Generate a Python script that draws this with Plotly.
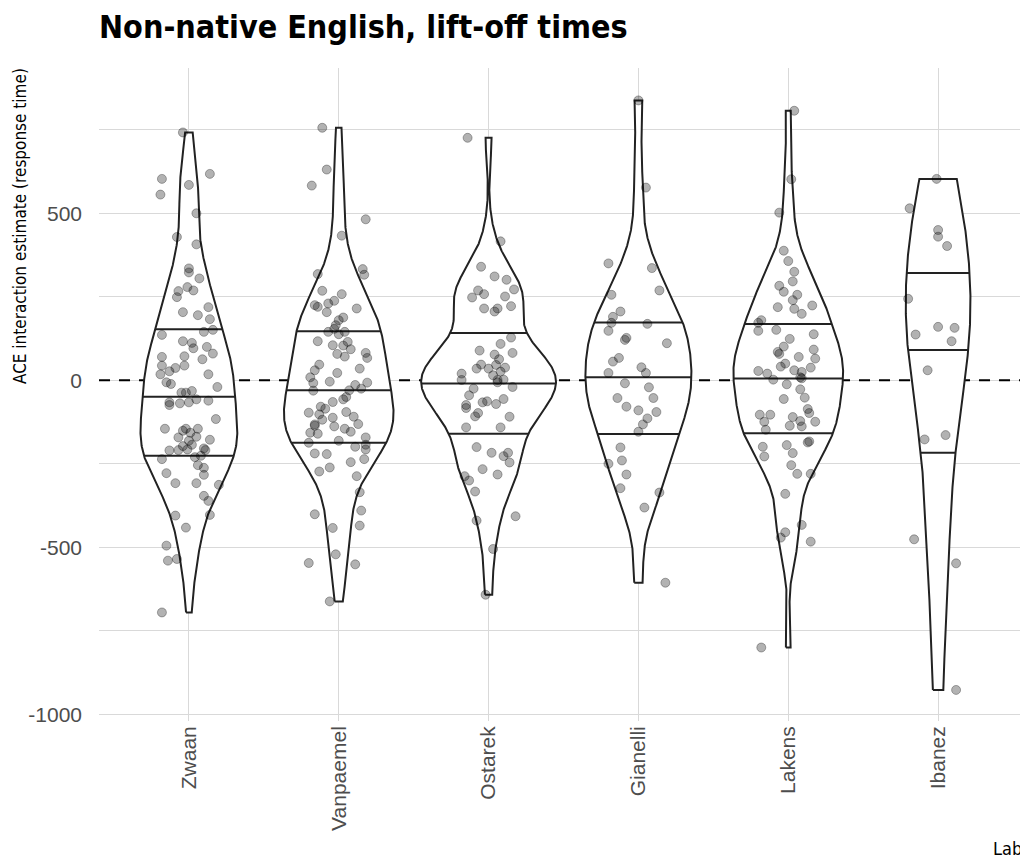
import numpy as np
import plotly.graph_objects as go

LABS = ["Zwaan", "Vanpaemel", "Ostarek", "Gianelli", "Lakens", "Ibanez"]
Y_TICKS = [-1000, -750, -500, -250, 0, 250, 500, 750]

zwaan_values = [742, 603, 556, 618, 585, 500, 429, 407, 335, 323,
                305, 279, 267, 269, 249, 204, 219, 195, 183, 145,
                151, 136, 117, 112, 96, 100, 80, 70, 72, 63,
                44, 44, 37, 27, 18, 18, -6, -11, -20, -37,
                -37, -32, -66, -66, -69, -57, -61, -74, -116, -145,
                -151, -145, -145, -171, -157, -169, -178, -181, -197, -193,
                -210, -209, -207, -204, -209, -230, -226, -236, -254, -262,
                -278, -283, -308, -308, -313, -346, -361, -403, -405, -441,
                -495, -540, -535, -695]
zwaan_jitter = [-0.04, -0.18, -0.19, 0.14, 0.00, 0.05, -0.08, 0.05, 0.00, 0.00,
                0.07, -0.01, -0.07, 0.03, -0.08, -0.04, 0.13, 0.06, 0.14, 0.10,
                0.16, -0.18, -0.04, 0.02, 0.03, 0.12, 0.16, -0.18, -0.03, 0.09,
                -0.18, -0.03, -0.09, -0.13, -0.19, 0.13, -0.15, -0.12, 0.19, -0.05,
                -0.02, 0.02, 0.00, -0.13, -0.06, 0.05, 0.13, -0.13, 0.18, -0.16,
                -0.04, -0.02, 0.06, -0.07, 0.01, 0.05, 0.14, 0.00, -0.04, 0.02,
                -0.13, -0.07, -0.01, 0.10, 0.11, 0.04, 0.08, -0.18, 0.06, 0.10,
                -0.15, 0.10, -0.09, 0.05, 0.20, 0.10, 0.13, 0.14, -0.09, -0.02,
                -0.15, -0.14, -0.08, -0.18]

vanpaemel_values = [756, 631, 583, 482, 433, 333, 316, 318, 268, 258,
                    225, 220, 230, 238, 204, 215, 188, 180, 165, 145,
                    154, 145, 138, 117, 105, 104, 93, 115, 79, 71,
                    82, 67, 47, 30, 9, 22, 35, -8, -4, -7,
                    -14, -30, -31, -25, -50, -65, -57, -85, -79, -97,
                    -102, -112, -95, -109, -131, -132, -118, -138, -145, -154,
                    -157, -160, -136, -187, -181, -171, -193, -207, -199, -219,
                    -221, -236, -245, -261, -273, -287, -335, -390, -401, -442,
                    -435, -521, -547, -551, -662]
vanpaemel_jitter = [-0.11, -0.08, -0.18, 0.18, 0.02, 0.16, 0.17, -0.14, -0.11, 0.02,
                    -0.16, -0.14, -0.07, -0.03, -0.08, 0.12, 0.03, 0.00, -0.02, -0.07,
                    -0.03, 0.04, 0.00, -0.14, -0.04, 0.03, 0.08, 0.06, -0.01, 0.04,
                    0.18, 0.19, -0.13, -0.16, -0.19, -0.01, 0.14, -0.17, -0.06, 0.19,
                    0.11, 0.07, -0.17, 0.15, 0.05, -0.04, 0.03, -0.09, -0.12, -0.20,
                    -0.13, -0.04, 0.05, 0.10, 0.13, -0.16, -0.11, -0.03, 0.04, 0.08,
                    -0.19, -0.14, -0.16, -0.20, 0.00, 0.18, 0.18, 0.18, 0.11, -0.16,
                    -0.08, 0.17, 0.08, -0.06, -0.13, 0.12, 0.14, 0.15, -0.16, -0.04,
                    0.14, -0.02, -0.20, 0.11, -0.06]

ostarek_values = [726, 416, 340, 311, 301, 269, 272, 258, 248, 251,
                  215, 215, 222, 206, 128, 109, 89, 82, 77, 63,
                  47, 35, 35, 46, 38, 20, 26, 15, 1, 1,
                  2, -6, -20, -25, -45, -56, -66, -63, -71, -74,
                  -83, -98, -108, -109, -141, -141, -200, -217, -217, -227,
                  -246, -266, -282, -287, -300, -333, -407, -420, -505, -642]
ostarek_jitter = [-0.14, 0.08, -0.05, 0.04, 0.12, -0.07, 0.17, -0.03, -0.11, 0.11,
                  -0.03, 0.06, 0.15, 0.04, 0.15, 0.08, -0.06, 0.16, 0.04, 0.07,
                  -0.05, -0.08, 0.00, 0.05, 0.11, -0.18, 0.08, 0.03, -0.18, 0.06,
                  0.10, 0.06, 0.16, -0.10, -0.13, 0.10, -0.04, -0.01, 0.05, -0.15,
                  -0.15, -0.07, -0.09, 0.14, -0.15, 0.08, -0.08, 0.02, 0.13, 0.10,
                  0.14, -0.04, 0.06, -0.16, -0.13, -0.09, 0.18, -0.08, 0.03, -0.02]

gianelli_values = [838, 577, 350, 336, 269, 256, 206, 190, 172, 169,
                   148, 127, 121, 111, 67, 56, 39, 22, 22, -9,
                   -21, -53, -53, -79, -90, -95, -114, -132, -154, -201,
                   -240, -250, -282, -323, -336, -381, -606]
gianelli_jitter = [0.00, 0.05, -0.20, 0.09, 0.14, -0.18, -0.12, -0.17, -0.18, 0.06,
                   -0.20, -0.08, -0.09, 0.19, -0.13, -0.17, 0.02, 0.05, -0.20, -0.09,
                   0.07, 0.10, -0.14, -0.08, 0.00, 0.12, 0.06, 0.03, 0.00, -0.12,
                   -0.11, -0.20, -0.08, -0.12, 0.14, 0.04, 0.18]

lakens_values = [807, 602, 502, 388, 357, 325, 296, 283, 265, 256,
                 240, 219, 214, 224, 199, 180, 172, 148, 151, 138,
                 124, 101, 92, 85, 79, 70, 65, 50, 41, 38,
                 30, 28, 25, 20, 2, 9, 6, -12, -27, -52,
                 -56, -86, -98, -103, -103, -110, -124, -124, -122, -136,
                 -138, -148, -183, -186, -199, -194, -228, -218, -254, -280,
                 -280, -340, -433, -455, -471, -483, -800]
lakens_jitter = [0.04, 0.02, -0.06, -0.03, 0.00, 0.04, 0.03, -0.06, -0.03, 0.06,
                 0.03, -0.07, 0.04, 0.16, 0.09, -0.18, -0.20, -0.20, -0.08, 0.17,
                 0.01, -0.03, 0.17, -0.07, -0.06, 0.07, 0.18, -0.02, -0.05, 0.15,
                 0.04, -0.20, 0.09, -0.14, -0.10, 0.08, 0.09, -0.01, 0.08, 0.11,
                 -0.03, 0.13, 0.14, -0.19, -0.12, 0.03, 0.18, -0.16, 0.08, 0.01,
                 0.09, -0.15, 0.14, 0.13, -0.17, -0.01, -0.16, 0.03, 0.02, 0.06,
                 0.15, -0.02, 0.09, -0.02, -0.05, 0.15, -0.18]

ibanez_values = [603, 515, 450, 430, 402, 244, 160, 157, 137, 117,
                 30, -177, -164, -476, -548, -927]
ibanez_jitter = [-0.01, -0.19, 0.00, 0.00, 0.06, -0.20, 0.00, 0.11, -0.15, 0.09,
                 -0.07, -0.09, 0.05, -0.16, 0.12, 0.12]

VALUES = [zwaan_values, vanpaemel_values, ostarek_values,
          gianelli_values, lakens_values, ibanez_values]
JITTER = [zwaan_jitter, vanpaemel_jitter, ostarek_jitter,
          gianelli_jitter, lakens_jitter, ibanez_jitter]
QUANTILES = [0.25, 0.5, 0.75]

VIOLIN_WIDTH = 0.9
X_RANGE = [-0.6, 5.6]
TEXT_GREY = "#4d4d4d"
GRID = "#d9d9d9"
NARROW = "Liberation Sans Narrow, Arial Narrow, DejaVu Sans Condensed, sans-serif"
REG = "Liberation Sans, Arial, Helvetica, sans-serif"


def bw_nrd0(x):
    x = np.asarray(x, float)
    sd = np.std(x, ddof=1)
    q75, q25 = np.percentile(x, [75, 25])
    lo = min(sd, (q75 - q25) / 1.34)
    if lo <= 0:
        lo = sd
    return 0.9 * lo * len(x) ** (-0.2)


def kde(x, n=512):
    x = np.asarray(x, float)
    bw = bw_nrd0(x)
    ys = np.linspace(x.min(), x.max(), n)
    z = (ys[:, None] - x[None, :]) / bw
    d = np.exp(-0.5 * z ** 2).sum(axis=1) / (len(x) * bw * np.sqrt(2 * np.pi))
    return ys, d


dens = [kde(v) for v in VALUES]
dmax = max(d.max() for _, d in dens)

fig = go.Figure()

# dashed reference line at zero (drawn first, hidden behind violins)
fig.add_trace(go.Scatter(x=X_RANGE, y=[0, 0], mode="lines",
                         line=dict(color="black", width=2, dash="11px,9px"),
                         hoverinfo="skip", showlegend=False))

for i, (lab, (ys, d)) in enumerate(zip(LABS, dens)):
    half = d / dmax * VIOLIN_WIDTH / 2
    px = np.concatenate([i - half, (i + half)[::-1], [i - half[0]]])
    py = np.concatenate([ys, ys[::-1], [ys[0]]])
    fig.add_trace(go.Scatter(x=px, y=py, mode="lines", fill="toself",
                             fillcolor="white",
                             line=dict(color="#222222", width=2),
                             hoverinfo="skip", showlegend=False))
    cdf = np.cumsum(d) / d.sum()
    qy = np.interp(QUANTILES, cdf, ys)
    qh = np.interp(qy, ys, half)
    lx, ly = [], []
    for yv, h in zip(qy, qh):
        lx += [i - h, i + h, None]
        ly += [yv, yv, None]
    fig.add_trace(go.Scatter(x=lx, y=ly, mode="lines",
                             line=dict(color="#222222", width=2),
                             hoverinfo="skip", showlegend=False))

for i, (vals, jit) in enumerate(zip(VALUES, JITTER)):
    fig.add_trace(go.Scatter(
        x=[i + j for j in jit], y=vals, mode="markers",
        marker=dict(size=9, color="rgba(0,0,0,0.3)",
                    line=dict(color="rgba(0,0,0,0.3)", width=1)),
        showlegend=False, name=LABS[i]))

fig.update_layout(
    width=1028, height=863,
    margin=dict(l=91, r=8, t=60, b=150),
    plot_bgcolor="white", paper_bgcolor="white",
    showlegend=False,
    title=dict(text="<b>Non-native English, lift-off times</b>",
               font=dict(family=NARROW, size=32, color="black"),
               xref="container", x=91 / 1028, xanchor="left",
               yref="container", y=1 - 8 / 863, yanchor="top",
               automargin=False),
    xaxis=dict(range=X_RANGE, tickmode="array", tickvals=list(range(len(LABS))),
               ticktext=LABS, tickangle=-90, showgrid=True, gridcolor=GRID,
               gridwidth=1, zeroline=False, showline=False, ticks="",
               tickfont=dict(family=REG, size=21, color=TEXT_GREY),
               ticklabelstandoff=0, automargin=False),
    yaxis=dict(range=[-1020, 935], tickmode="array", tickvals=Y_TICKS,
               ticktext=[str(v) if v % 500 == 0 else "" for v in Y_TICKS],
               showgrid=True, gridcolor=GRID, gridwidth=1, zeroline=False,
               showline=False, ticks="",
               tickfont=dict(family=REG, size=21, color=TEXT_GREY),
               ticklabelstandoff=16, automargin=False),
    annotations=[
        dict(text="ACE interaction estimate (response time)", textangle=-90,
             xref="paper", x=-79 / 929, xanchor="center",
             yref="paper", y=1, yanchor="top", yshift=2, showarrow=False,
             font=dict(family=NARROW, size=17, color="black")),
        dict(text="Lab", xref="paper", x=1, xanchor="right", xshift=-4,
             yref="paper", y=(721 - 848) / 653, yanchor="middle", showarrow=False,
             font=dict(family=NARROW, size=18, color="black")),
    ],
)

fig.write_html("out.html")
